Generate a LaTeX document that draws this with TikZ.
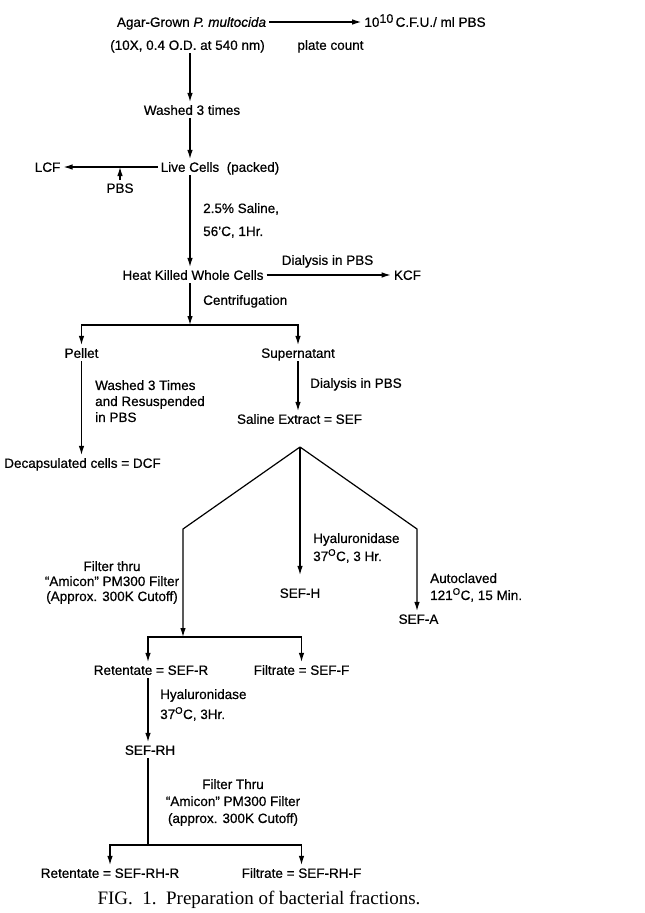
\documentclass[tikz,border=0pt]{standalone}
\usepackage{fontspec}
\setmainfont{Liberation Sans}[FakeBold=0.6]
\newfontfamily\capfont{Liberation Serif}
\usepackage{tikz}
\usetikzlibrary{calc}
\usetikzlibrary{positioning}
\usetikzlibrary{arrows.meta}

\begin{document}
\begin{tikzpicture}[x=1pt, y=-1pt,
    txt/.style={font=\fontsize{13.5}{16}\selectfont, inner sep=3pt,
        text height=9.7pt, text depth=0pt},
    note/.style={font=\fontsize{13.5}{16}\selectfont, inner sep=0pt,
        anchor=north west, align=left},
    arr/.style={-{Latex[length=9pt, width=5.5pt]}}]

        \useasboundingbox (0,0) rectangle (645,913);

        % Page coordinates, y grows downwards
        \coordinate (colA) at (190,0);
        \coordinate (colL) at (148,0);
        \coordinate (split1) at (190,325);
        \coordinate (apex) at (300,447);
        \coordinate (lk) at (183,529);
        \coordinate (rk) at (417,529);
        \coordinate (split2) at (183,637);
        \coordinate (split3) at (148,845);

        \begin{scope}[txt]
            \node (agar) at (191.5,22) {Agar-Grown \textit{P. multocida}};
            \node (agarod) at (187.5,45) {(10X, 0.4 O.D. at 540 nm)};
            \node (cfu) [right=92pt of agar]
            {10\raisebox{4pt}{\fontsize{12.5}{14}\selectfont 10}\,C.F.U./ ml PBS};
            \node (plate) at (330.5,45) {plate count};
            \node (wash) at (192,110) {Washed 3 times};
            \node (live) at (220,167) {Live Cells\ \ (packed)};
            \node (lcf) [left=94pt of live] {LCF};
            \node (pbs) at (120,188) {PBS};
            \node (heat) at (193,275) {Heat Killed Whole Cells};
            \node (dial1) at (327.5,260) {Dialysis in PBS};
            \node (kcf) [right=124pt of heat] {KCF};
            \node (centr) [anchor=west] at (200,300) {Centrifugation};
            \node (pellet) at (81.5,353) {Pellet};
            \node (super) at (298,353) {Supernatant};
            \node (dial2) [anchor=west] at (307,383) {Dialysis in PBS};
            \node (sef) at (299.5,419) {Saline Extract = SEF};
            \node (dcf) at (82.5,463) {Decapsulated cells = DCF};
            \node (sefh) at (300,593) {SEF-H};
            \node (sefa) at (418.5,619) {SEF-A};
            \node (ret1) at (151,670) {Retentate = SEF-R};
            \node (filt1) at (301.5,670) {Filtrate = SEF-F};
            \node (sefrh) at (150,750) {SEF-RH};
            \node (retrh) at (110,873) {Retentate = SEF-RH-R};
            \node (filtrh) at (301.5,873) {Filtrate = SEF-RH-F};
        \end{scope}

        \node[note] (saline) at (203,203) {2.5\% Saline,\\[7pt]56'C, 1Hr.};
        \node[note] (wash3) at (95,380)
        {Washed 3 Times\\and Resuspended\\in PBS};
        \node[note] (hyal1) at (313,533)
        {Hyaluronidase\\[2pt]37\textsuperscript{O}C, 3 Hr.};
        \node[note] (autoc) at (430,573)
        {Autoclaved\\[1pt]121\textsuperscript{O}C, 15 Min.};
        \node[note, anchor=north, align=center] (filter1) at (112,561)
        {Filter thru\\[-1pt]“Amicon” PM300 Filter\\[-1pt](Approx. 300K Cutoff)};
        \node[note] (hyal2) at (160,689)
        {Hyaluronidase\\[4pt]37\textsuperscript{O}C, 3Hr.};
        \node[note, anchor=north, align=center] (filter2) at (233,779)
        {Filter Thru\\[1pt]“Amicon” PM300 Filter\\[1pt](approx. 300K Cutoff)};

        \node[font=\capfont\fontsize{19}{22}\selectfont] (caption) at (259,900)
        {FIG.\ \ 1.\ \ Preparation of bacterial fractions.};

        \begin{scope}[arr, line width=1.2pt]
            \draw (agar.east) -- (cfu.west);
            \draw (colA |- agarod.south) -- (colA |- wash.north);
            \draw (colA |- wash.south) -- (colA |- live.north);
            \draw (live.west) -- (lcf.east);
            \draw (pbs.north) -- (pbs.north |- live.west);
            \draw (colA |- live.south) -- (colA |- heat.north);
            \draw (heat.east) -- (kcf.west);
            \draw (colA |- heat.south) -- (split1);
            \draw (split1) -| (pellet.north);
            \draw (split1) -| (super.north);
            \draw (pellet.south) -- (pellet.south |- dcf.north);
            \draw (super.south) -- (super.south |- sef.north);

            \draw (apex) -- (lk) -- (split2);
            \draw[shorten >=10pt] (apex) -- (apex |- sefh.north);
            \draw (apex) -- (rk) -- (rk |- sefa.north);
            \draw (split2) -| (colL |- ret1.north);
            \draw (split2) -| (filt1.north);
            \draw (colL |- ret1.south) -- (colL |- sefrh.north);
            \draw[-] (colL |- sefrh.south) -- (split3);
            \draw (split3) -| (retrh.north);
            \draw (split3) -| (filtrh.north);
        \end{scope}

\end{tikzpicture}
\end{document}
